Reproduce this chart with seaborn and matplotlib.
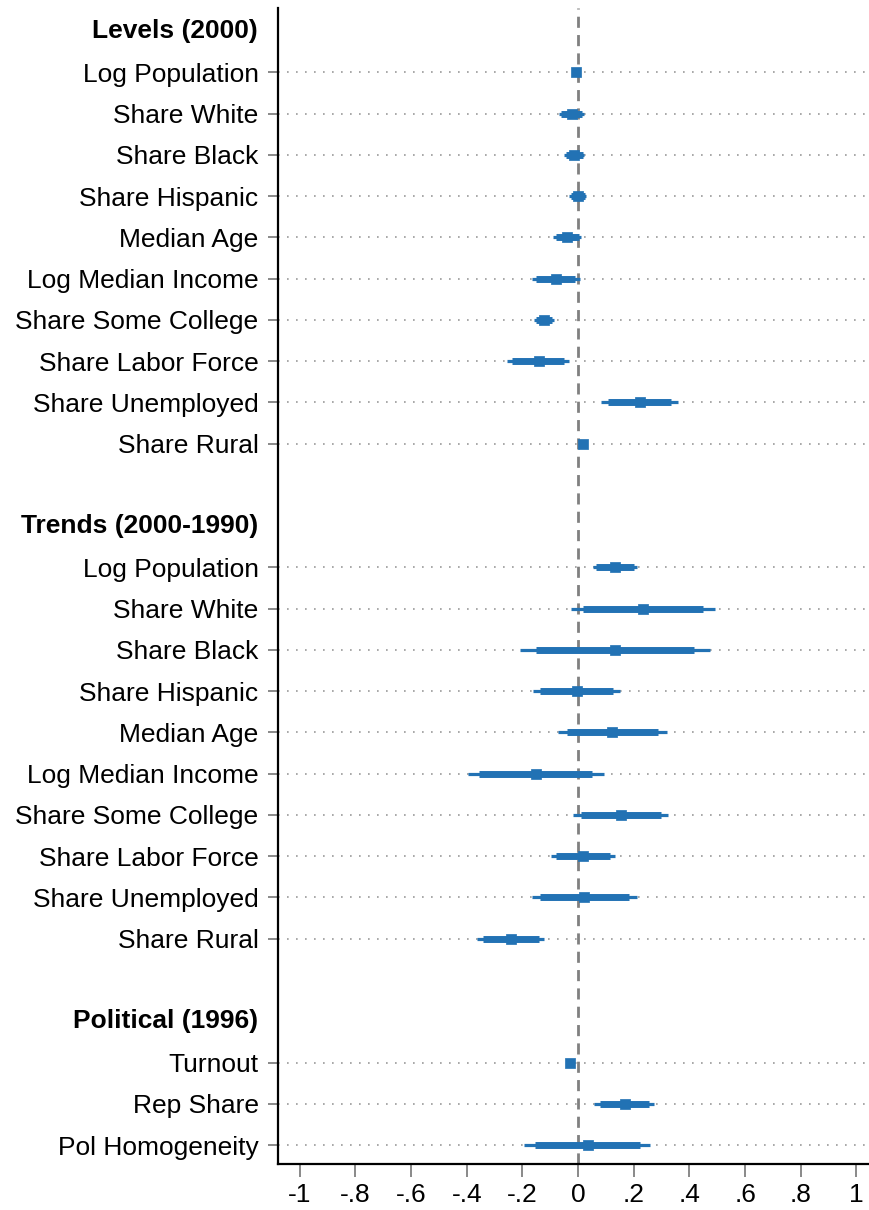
import numpy as np
import pandas as pd
import matplotlib
matplotlib.use("Agg")
import matplotlib.pyplot as plt
import matplotlib.transforms as mtransforms
import seaborn as sns

# Coefficient estimates with 90% (thick) and 95% (thin) confidence intervals
group_titles = ["Levels (2000)", "Trends (2000-1990)", "Political (1996)"]

levels_vars = ["Log Population", "Share White", "Share Black", "Share Hispanic",
               "Median Age", "Log Median Income", "Share Some College",
               "Share Labor Force", "Share Unemployed", "Share Rural"]
levels_coef = [-0.007, -0.023, -0.013, -0.001, -0.039, -0.081, -0.122, -0.142, 0.222, 0.016]
levels_lo95 = [-0.012, -0.068, -0.050, -0.033, -0.089, -0.167, -0.158, -0.254, 0.083, 0.004]
levels_hi95 = [-0.002, 0.023, 0.023, 0.030, 0.011, 0.007, -0.086, -0.031, 0.358, 0.028]
levels_lo90 = [-0.011, -0.060, -0.043, -0.027, -0.081, -0.152, -0.152, -0.236, 0.107, 0.006]
levels_hi90 = [-0.003, 0.014, 0.017, 0.025, 0.003, -0.010, -0.092, -0.049, 0.334, 0.026]

trends_vars = levels_vars
trends_coef = [0.134, 0.234, 0.131, -0.005, 0.123, -0.152, 0.156, 0.019, 0.023, -0.242]
trends_lo95 = [0.053, -0.025, -0.210, -0.162, -0.073, -0.397, -0.017, -0.098, -0.167, -0.363]
trends_hi95 = [0.213, 0.491, 0.473, 0.152, 0.318, 0.092, 0.324, 0.134, 0.213, -0.124]
trends_lo90 = [0.065, 0.019, -0.152, -0.137, -0.040, -0.357, 0.011, -0.080, -0.137, -0.342]
trends_hi90 = [0.201, 0.448, 0.417, 0.125, 0.286, 0.051, 0.297, 0.116, 0.183, -0.142]

political_vars = ["Turnout", "Rep Share", "Pol Homogeneity"]
political_coef = [-0.028, 0.168, 0.035]
political_lo95 = [-0.034, 0.059, -0.194]
political_hi95 = [-0.022, 0.272, 0.258]
political_lo90 = [-0.033, 0.077, -0.154]
political_hi90 = [-0.023, 0.254, 0.222]

x_ticks = [-1, -0.8, -0.6, -0.4, -0.2, 0, 0.2, 0.4, 0.6, 0.8, 1]
x_ticklabels = ["-1", "-.8", "-.6", "-.4", "-.2", "0", ".2", ".4", ".6", ".8", "1"]

# Assemble a long table with row positions: each group gets a header row,
# its variables, and one blank spacer row.
groups = [
    (levels_vars, levels_coef, levels_lo95, levels_hi95, levels_lo90, levels_hi90),
    (trends_vars, trends_coef, trends_lo95, trends_hi95, trends_lo90, trends_hi90),
    (political_vars, political_coef, political_lo95, political_hi95, political_lo90, political_hi90),
]
rows = []
header_pos = []
pos = 0
for title, (names, coef, lo95, hi95, lo90, hi90) in zip(group_titles, groups):
    header_pos.append(pos)
    pos += 1
    for n, c, a, b, d, e in zip(names, coef, lo95, hi95, lo90, hi90):
        rows.append(dict(var=n, pos=pos, coef=c, lo95=a, hi95=b, lo90=d, hi90=e))
        pos += 1
    pos += 1
df = pd.DataFrame(rows)

sns.set_theme(style="white")
plt.rcParams["font.family"] = ["Liberation Sans", "DejaVu Sans"]
plt.rcParams["text.color"] = "black"
plt.rcParams["xtick.labelcolor"] = "black"
plt.rcParams["ytick.labelcolor"] = "black"

blue = "#2272b4"
fs = 19
fig = plt.figure(figsize=(8.7, 12.1), dpi=100)
ax = fig.add_axes([278 / 870, 46 / 1210, 1 - 278 / 870 + 0.01, (1164 - 8) / 1210])

# dotted guide lines for each variable row
for p in df["pos"]:
    ax.axhline(p, color="#9a9a9a", lw=1.2, ls=(0, (1, 4.4)), zorder=0)

ax.axvline(0, color="#808080", lw=2.0, ls=(0, (4, 2.6)), zorder=1)

ax.hlines(df["pos"], df["lo95"], df["hi95"], color=blue, lw=2.3, zorder=2)
ax.hlines(df["pos"], df["lo90"], df["hi90"], color=blue, lw=5.0, zorder=3)
sns.scatterplot(data=df, x="coef", y="pos", marker="s", s=62, color=blue,
                edgecolor=blue, linewidth=0.5, zorder=4, ax=ax, legend=False)

ax.set_xlim(-1.078, 1.08)
ax.set_ylim(27.46, -0.56)
ax.set_xticks(x_ticks)
ax.set_xticklabels(x_ticklabels, fontsize=fs, color="black")
ax.set_yticks(df["pos"])
ax.set_yticklabels(df["var"], fontsize=fs, color="black")
ax.set_xlabel("")
ax.set_ylabel("")

ax.tick_params(axis="y", length=7, width=1.3, color="#808080", pad=7, left=True)
ax.tick_params(axis="x", length=9, width=1.3, color="#808080", pad=5, bottom=True)

for side in ["top", "right"]:
    ax.spines[side].set_visible(False)
for side in ["left", "bottom"]:
    ax.spines[side].set_color("black")
    ax.spines[side].set_linewidth(1.6)

trans = mtransforms.blended_transform_factory(
    mtransforms.offset_copy(ax.transAxes, fig=fig, x=-20, y=0, units="dots"), ax.transData)
for title, hp in zip(group_titles, header_pos):
    ax.text(0, hp, title, transform=trans, ha="right", va="center",
            fontsize=fs, fontweight="bold", color="black")

fig.savefig("out.png", dpi=100)
